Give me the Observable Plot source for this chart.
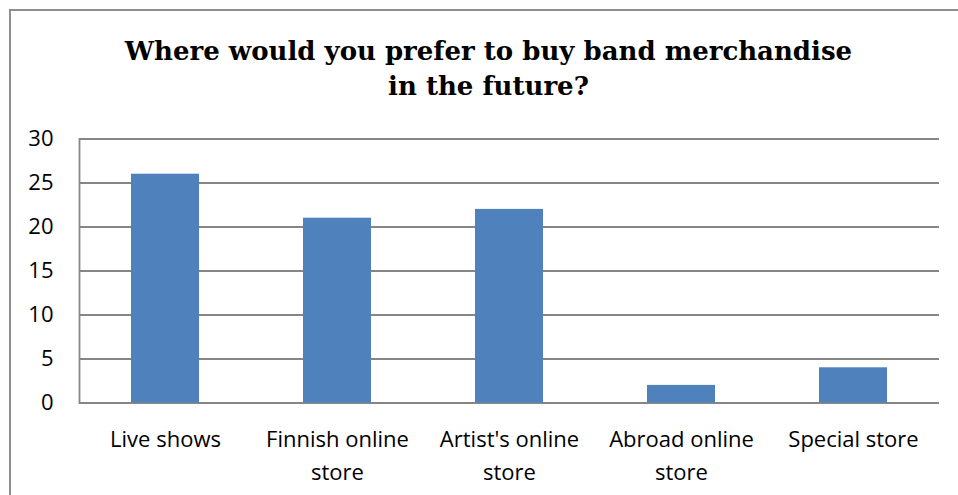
<!DOCTYPE html>
<html>
<head>
<meta charset="utf-8">
<script src="https://cdn.jsdelivr.net/npm/d3@7"></script>
<script src="https://cdn.jsdelivr.net/npm/@observablehq/plot@0.6"></script>
<style>
  body { margin: 0; background: #fff; }
  #wrap { position: relative; width: 958px; height: 495px; overflow: hidden; background: #fff; }
  #frame { position: absolute; left: 9px; top: 9px; width: 1000px; height: 600px; border: 2px solid #8e8e8e; box-sizing: border-box; }
  #title { position: absolute; left: 0; width: 977px; top: 34px; text-align: center; font-family: "DejaVu Serif", serif; font-weight: bold; font-size: 26px; line-height: 35px; color: #000; }
  #chart { position: absolute; left: 0; top: 0; }
</style>
</head>
<body>
<div id="wrap">
  <div id="frame"></div>
  <div id="title">Where would you prefer to buy band merchandise<br>in the future?</div>
  <div id="chart"></div>
</div>
<script>
const categories = ["Live shows", "Finnish online store", "Artist's online store", "Abroad online store", "Special store"];
const values = [26, 21, 22, 2, 4];
const xTickLabels = ["Live shows", "Finnish online\nstore", "Artist's online\nstore", "Abroad online\nstore", "Special store"];
const yTicks = [0, 5, 10, 15, 20, 25, 30];

const data = categories.map((c, i) => ({category: c, value: values[i]}));
const labelOf = new Map(categories.map((c, i) => [c, xTickLabels[i]]));

const chart = Plot.plot({
  width: 958,
  height: 495,
  marginLeft: 79,
  marginRight: 19,
  marginTop: 138.5,
  marginBottom: 92.5,
  style: {fontFamily: "'Open Sans', sans-serif", fontSize: "22px", background: "transparent", color: "#000", overflow: "visible"},
  x: {domain: categories, paddingInner: 0.605, paddingOuter: 0.3025, align: 0.5, label: null},
  y: {domain: [0, 30], label: null},
  marks: [
    Plot.gridY(yTicks, {stroke: "#868686", strokeOpacity: 1, strokeWidth: 1.8}),
    Plot.frame({anchor: "left", stroke: "#868686", strokeWidth: 1.8}),
    Plot.barY(data, {x: "category", y: "value", fill: "#4F81BD"}),
    Plot.axisY({ticks: yTicks, tickSize: 0, tickPadding: 26, fontSize: 22, label: null}),
    Plot.axisX({tickSize: 0, tickPadding: 21, fontSize: 22, lineHeight: 1.48, tickFormat: d => labelOf.get(d), label: null})
  ]
});
document.getElementById("chart").appendChild(chart);
</script>
</body>
</html>
